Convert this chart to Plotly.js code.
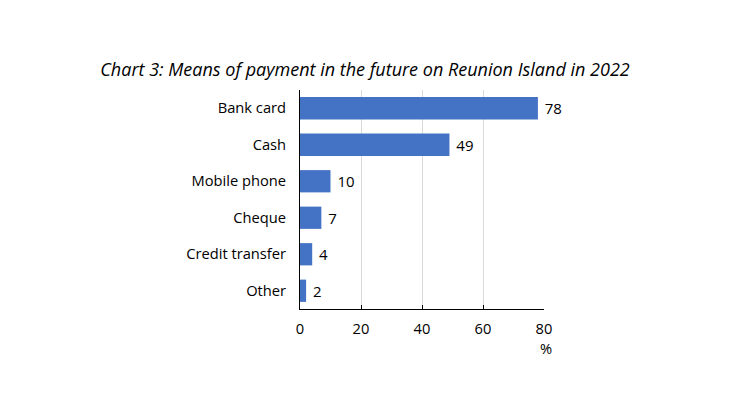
<!DOCTYPE html>
<html>
<head>
<meta charset="utf-8">
<script src="https://cdn.plot.ly/plotly-3.0.1.min.js"></script>
<style>
  html, body { margin: 0; padding: 0; background: #fff; }
  #plot { width: 730px; height: 410px; }
</style>
</head>
<body>
<div id="plot"></div>
<script>
// Chart data
let categories = ["Bank card", "Cash", "Mobile phone", "Cheque", "Credit transfer", "Other"]
let shares = [78, 49, 10, 7, 4, 2]
let tickValues = [0, 20, 40, 60, 80]

// Horizontal bars, first category on top
let trace = {
  type: "bar",
  orientation: "h",
  x: shares,
  y: categories,
  text: shares.map(v => " " + v),
  textposition: "outside",
  cliponaxis: false,
  textfont: { family: "Open Sans", size: 15, color: "#000" },
  marker: { color: "#4472C4", line: { width: 0 } },
  hoverinfo: "none",
}

let layout = {
  width: 730,
  height: 410,
  margin: { l: 300, r: 186, t: 90, b: 101 },
  paper_bgcolor: "#fff",
  plot_bgcolor: "#fff",
  showlegend: false,
  bargap: 0.39,
  font: { family: "Open Sans", size: 14.7, color: "#000" },
  title: {
    text: "<i>Chart 3: Means of payment in the future on Reunion Island in 2022</i>",
    font: { family: "Open Sans", size: 18, color: "#000" },
    x: 0.5,
    xanchor: "center",
    y: 0.83,
    yanchor: "middle",
  },
  xaxis: {
    range: [0, 80],
    tickvals: tickValues,
    ticktext: tickValues.map(String),
    showgrid: true,
    gridcolor: "#d9d9d9",
    gridwidth: 1,
    zeroline: false,
    showline: true,
    linecolor: "#000",
    linewidth: 1,
    ticks: "inside",
    ticklen: 4,
    tickcolor: "#000",
    ticklabelstandoff: 6,
    tickfont: { family: "Open Sans", size: 14.7, color: "#000" },
  },
  yaxis: {
    autorange: "reversed",
    showline: true,
    linecolor: "#000",
    linewidth: 1,
    showgrid: false,
    zeroline: false,
    ticks: "",
    ticklabelstandoff: 10,
    tickfont: { family: "Open Sans", size: 14.7, color: "#000" },
  },
  annotations: [
    {
      text: "%",
      xref: "paper",
      yref: "paper",
      x: 1.01,
      y: -0.125,
      xanchor: "center",
      yanchor: "top",
      showarrow: false,
      font: { family: "Open Sans", size: 14.7, color: "#000" },
    },
  ],
}

Plotly.newPlot("plot", [trace], layout, { displayModeBar: false, staticPlot: true })
</script>
</body>
</html>
